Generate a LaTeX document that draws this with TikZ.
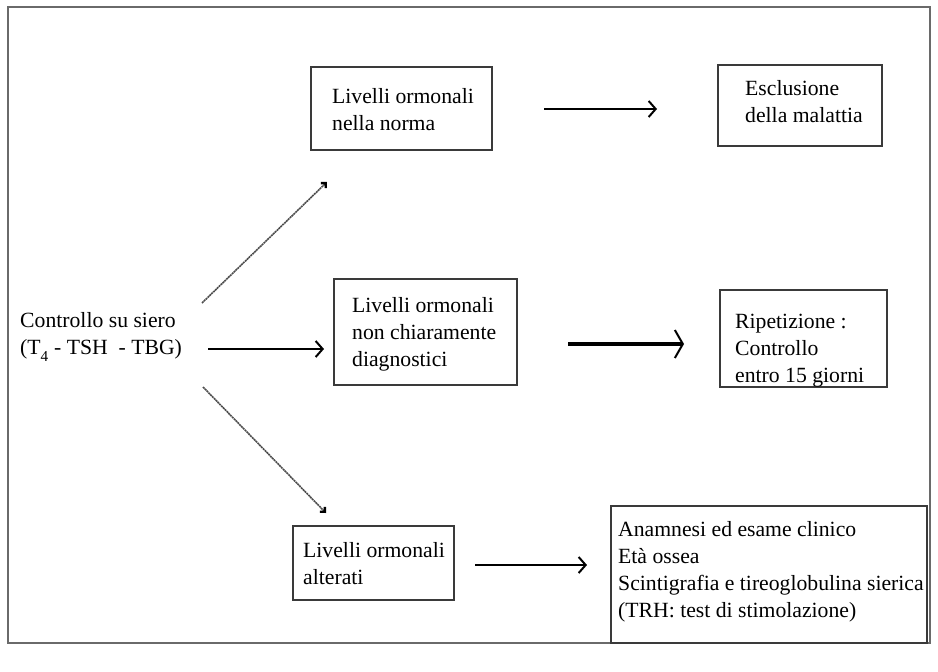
\documentclass[tikz,border=0pt]{standalone}
\usepackage{fontspec}
\setmainfont{Liberation Serif}
\usetikzlibrary{arrows.meta}
\definecolor{boxgray}{HTML}{3A3A3A}
\definecolor{framegray}{HTML}{6A6A6A}
\tikzset{
  boxnode/.style={draw=boxgray, line width=1.2pt, rectangle, inner sep=0pt},
  txt/.style={anchor=west, align=left, inner sep=0pt, font=\fontsize{21.7}{27}\selectfont},
  arr/.style={line width=2pt, -{Straight Barb[length=7pt,width=16pt,line width=2pt]}},
  boldarr/.style={line width=4pt, -{Straight Barb[length=8pt,width=28pt,line width=2pt]}},
  diagarr/.style={line width=1.6pt, draw=black!70, dash pattern=on 2pt off 0.6pt, -{Straight Barb[length=3.5pt,width=7pt,line width=2.4pt,black]}}
}
\begin{document}
\begin{tikzpicture}[x=1pt,y=-1pt]
\useasboundingbox (0,0) rectangle (938,672);
\draw[framegray, line width=2pt] (8,7) rectangle (930,643);

% boxes
\node[boxnode, minimum width=181pt, minimum height=83pt] (b1) at (401.5,108.5) {};
\node[boxnode, minimum width=164pt, minimum height=81pt] (b2) at (800,105.5) {};
\node[boxnode, minimum width=183pt, minimum height=106pt] (b3) at (425.5,332) {};
\node[boxnode, minimum width=167pt, minimum height=97pt] (b4) at (803.5,338.5) {};
\node[boxnode, minimum width=161pt, minimum height=74pt] (b5) at (373.5,563) {};
\node[boxnode, minimum width=316pt, minimum height=137pt] (b6) at (769,574.5) {};

% texts
\node[txt] (t0) at (20,337) {Controllo su siero\\(T\textsubscript{\raisebox{-0.5ex}{4}} - TSH\ \ - TBG)};
\node[txt] (t1) at (332,110) {Livelli ormonali\\nella norma};
\node[txt] (t2) at (745,102) {Esclusione\\della malattia};
\node[txt] (t3) at (352,334) {Livelli ormonali\\non chiaramente\\diagnostici};
\node[txt] (t4) at (735,351) {Ripetizione :\\Controllo\\entro 15 giorni};
\node[txt] (t5) at (303,564) {Livelli ormonali\\alterati};
\node[txt] (t6) at (618,572) {Anamnesi ed esame clinico\\Età ossea\\Scintigrafia e tireoglobulina sierica\\(TRH: test di stimolazione)};

% arrow end points
\coordinate (a1s) at (544,109);
\coordinate (a1e) at (657,109);
\coordinate (a2s) at (568,344);
\coordinate (a2e) at (684,344);
\coordinate (a3s) at (208,349);
\coordinate (a3e) at (324,349);
\coordinate (a4s) at (475,565);
\coordinate (a4e) at (587,565);
\coordinate (d1s) at (202,303);
\coordinate (d1e) at (327,182);
\coordinate (d2s) at (203,387);
\coordinate (d2e) at (326,513);

\draw[arr] (a1s) -- (a1e);
\draw[boldarr] (a2s) -- (a2e);
\draw[arr, line width=2.4pt] (a3s) -- (a3e);
\draw[arr] (a4s) -- (a4e);
\draw[diagarr] (d1s) -- (d1e);
\draw[diagarr] (d2s) -- (d2e);
\end{tikzpicture}
\end{document}
